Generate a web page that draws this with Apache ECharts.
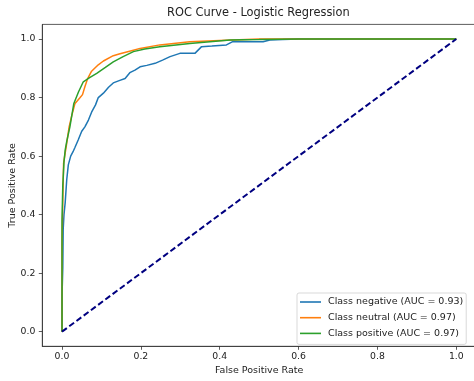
<!DOCTYPE html>
<html>
<head>
<meta charset="utf-8">
<script src="https://cdn.jsdelivr.net/npm/echarts@6/dist/echarts.min.js"></script>
<style>
html,body{margin:0;padding:0;background:#fff;}
#chart{width:474px;height:381px;}
</style>
</head>
<body>
<div id="chart"></div>
<script>
const xTicks = [0, 0.2, 0.4, 0.6, 0.8, 1.0];
const yTicks = [0, 0.2, 0.4, 0.6, 0.8, 1.0];
const seriesNames = ['Class negative (AUC = 0.93)', 'Class neutral (AUC = 0.97)', 'Class positive (AUC = 0.97)'];

const negFpr = [0, 0, 0.002, 0.003, 0.005, 0.008, 0.012, 0.016, 0.022, 0.028, 0.033, 0.041, 0.05, 0.058, 0.067, 0.075, 0.085, 0.092, 0.105, 0.118, 0.13, 0.145, 0.16, 0.172, 0.185, 0.198, 0.215, 0.236, 0.255, 0.274, 0.299, 0.337, 0.354, 0.38, 0.417, 0.433, 0.47, 0.51, 0.527, 0.56, 0.6, 0.7, 0.8, 0.9, 1.0];
const negTpr = [0, 0.12, 0.22, 0.35, 0.4, 0.44, 0.52, 0.57, 0.6, 0.615, 0.63, 0.655, 0.685, 0.7, 0.723, 0.75, 0.775, 0.8, 0.815, 0.835, 0.85, 0.858, 0.865, 0.885, 0.894, 0.905, 0.91, 0.917, 0.928, 0.94, 0.951, 0.951, 0.974, 0.976, 0.98, 0.991, 0.991, 0.991, 0.997, 0.998, 1.0, 1.0, 1.0, 1.0, 1.0];

const neuFpr = [0, 0, 0.002, 0.004, 0.008, 0.012, 0.018, 0.025, 0.033, 0.046, 0.052, 0.058, 0.065, 0.075, 0.092, 0.105, 0.13, 0.147, 0.181, 0.198, 0.248, 0.324, 0.4, 0.5, 0.6, 0.8, 1.0];
const neuTpr = [0, 0.3, 0.45, 0.576, 0.61, 0.644, 0.7, 0.74, 0.78, 0.8, 0.81, 0.837, 0.865, 0.89, 0.912, 0.925, 0.943, 0.95, 0.962, 0.968, 0.98, 0.991, 0.995, 1.0, 1.0, 1.0, 1.0];

const posFpr = [0, 0, 0.002, 0.005, 0.008, 0.012, 0.02, 0.03, 0.042, 0.054, 0.07, 0.088, 0.11, 0.13, 0.155, 0.181, 0.21, 0.248, 0.324, 0.426, 0.5, 0.6, 0.8, 1.0];
const posTpr = [0, 0.38, 0.5, 0.58, 0.62, 0.65, 0.7, 0.78, 0.82, 0.854, 0.868, 0.883, 0.903, 0.922, 0.94, 0.957, 0.966, 0.974, 0.985, 0.997, 0.998, 1.0, 1.0, 1.0];

const diagX = [0, 1];
const diagY = [0, 1];

const zip = (a, b) => a.map((v, i) => [v, b[i]]);
const FONT = 'DejaVu Sans';

const chart = echarts.init(document.getElementById('chart'), null, {renderer: 'canvas'});
chart.setOption({
  animation: false,
  backgroundColor: '#fff',
  title: {
    text: 'ROC Curve - Logistic Regression',
    left: 167, top: 8, padding: 0,
    textStyle: {fontFamily: FONT, fontSize: 11.4, fontWeight: 'normal', color: '#222'}
  },
  grid: {
    left: 42.3, top: 24.4, width: 433.7, height: 321.9,
    outerBoundsMode: 'none', containLabel: false,
    show: true, borderColor: '#333', borderWidth: 0.8, backgroundColor: 'transparent'
  },
  xAxis: {
    type: 'value', min: -0.05, max: 1.05,
    name: 'False Positive Rate', nameLocation: 'middle', nameGap: 19.5, nameMoveOverlap: false,
    nameTextStyle: {fontFamily: FONT, fontSize: 9.5, color: '#222'},
    axisLine: {show: true, onZero: false, lineStyle: {color: '#333', width: 0.8}},
    axisTick: {show: true, length: 3.5, lineStyle: {color: '#333', width: 0.8}, customValues: xTicks},
    axisLabel: {fontFamily: FONT, fontSize: 9.3, color: '#222', margin: 5.5, customValues: xTicks,
      formatter: v => v.toFixed(1)},
    splitLine: {show: false}
  },
  yAxis: {
    type: 'value', min: -0.05, max: 1.05,
    name: 'True Positive Rate', nameLocation: 'middle', nameGap: 25, nameMoveOverlap: false,
    nameTextStyle: {fontFamily: FONT, fontSize: 9.5, color: '#222'},
    axisLine: {show: true, onZero: false, lineStyle: {color: '#333', width: 0.8}},
    axisTick: {show: true, length: 3.5, lineStyle: {color: '#333', width: 0.8}, customValues: yTicks},
    axisLabel: {fontFamily: FONT, fontSize: 9.3, color: '#222', margin: 7, customValues: yTicks,
      formatter: v => v.toFixed(1)},
    splitLine: {show: false}
  },
  legend: {
    data: seriesNames,
    orient: 'vertical',
    left: 297, top: 293,
    padding: [3.5, 3, 5.5, 3],
    itemWidth: 21, itemHeight: 1.6, itemGap: 4.7,
    icon: 'rect',
    borderColor: '#cfcfcf', borderWidth: 0.8, borderRadius: 2,
    backgroundColor: 'rgba(255,255,255,0.8)',
    textStyle: {fontFamily: FONT, fontSize: 9.5, color: '#222', lineHeight: 11, padding: [0, 0, 0, 2]}
  },
  series: [
    {name: seriesNames[0], type: 'line', data: zip(negFpr, negTpr), showSymbol: false, symbol: 'none',
      lineStyle: {color: '#1f77b4', width: 1.5}, itemStyle: {color: '#1f77b4'}, z: 2},
    {name: seriesNames[1], type: 'line', data: zip(neuFpr, neuTpr), showSymbol: false, symbol: 'none',
      lineStyle: {color: '#ff7f0e', width: 1.5}, itemStyle: {color: '#ff7f0e'}, z: 3},
    {name: seriesNames[2], type: 'line', data: zip(posFpr, posTpr), showSymbol: false, symbol: 'none',
      lineStyle: {color: '#2ca02c', width: 1.5}, itemStyle: {color: '#2ca02c'}, z: 4},
    {name: 'diag', type: 'line', data: zip(diagX, diagY), showSymbol: false, symbol: 'none',
      lineStyle: {color: '#000080', width: 2, type: [6, 3]}, itemStyle: {color: '#000080'}, z: 5}
  ]
});
</script>
</body>
</html>
